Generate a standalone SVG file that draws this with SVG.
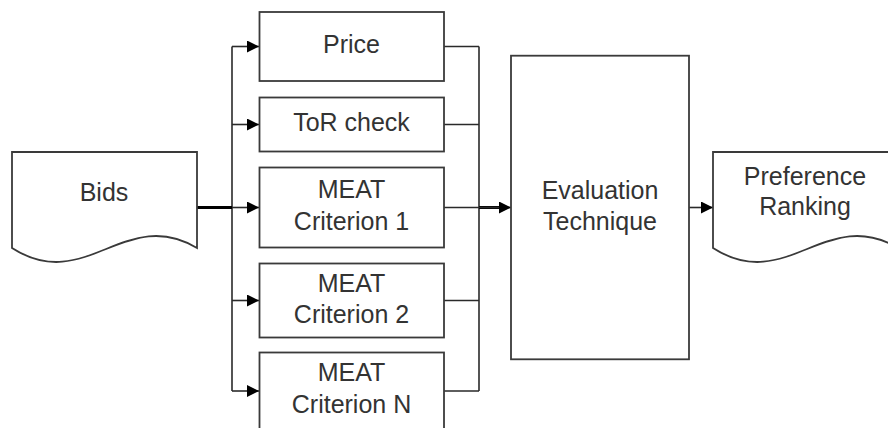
<svg xmlns="http://www.w3.org/2000/svg" width="888" height="428" viewBox="0 0 888 428">
<defs>
<marker id="arr" markerUnits="userSpaceOnUse" markerWidth="13" markerHeight="12" refX="12" refY="6" orient="auto">
<path d="M0,0 L12,6 L0,12 Z" fill="#000"/>
</marker>
<style>
.box{fill:#fff;stroke:#3a3a3a;stroke-width:1.8}
.t{font-family:"Liberation Sans",Arial,sans-serif;font-size:25px;fill:#333;text-anchor:middle}
.c{fill:none;stroke:#2a2a2a;stroke-width:1.6}
.k{fill:none;stroke:#000;stroke-width:3}
</style>
</defs>
<rect width="888" height="428" fill="#fff"/>
<g id="connectors">
<path class="c" d="M232,46.5 V391"/>
<path class="c" d="M232,46.5 H259" marker-end="url(#arr)"/>
<path class="c" d="M232,124.5 H259" marker-end="url(#arr)"/>
<path class="c" d="M232,207.5 H259" marker-end="url(#arr)"/>
<path class="c" d="M232,300.5 H259" marker-end="url(#arr)"/>
<path class="c" d="M232,391 H259" marker-end="url(#arr)"/>
<path class="k" d="M197,207.5 H232"/>
<path class="c" d="M479,46.5 V391"/>
<path class="c" d="M444,46.5 H479 M444,124.5 H479 M444,207.5 H479 M444,300.5 H479 M444,391 H479"/>
<path class="k" d="M479,207.5 H505"/>
<path class="c" d="M479,207.5 H511" marker-end="url(#arr)"/>
<path class="c" d="M689,207.5 H713" marker-end="url(#arr)"/>
</g>
<g id="bids">
<path class="box" d="M12,152 H197 V248 C125,205 85,295 12,248 Z"/>
<text class="t" x="104" y="201">Bids</text>
</g>
<g id="price">
<rect class="box" x="259.5" y="12" width="184.5" height="69"/>
<text class="t" x="351.5" y="53.3">Price</text>
</g>
<g id="tor">
<rect class="box" x="259.5" y="97.5" width="184.5" height="54"/>
<text class="t" x="351.5" y="130.7">ToR check</text>
</g>
<g id="meat1">
<rect class="box" x="259.5" y="167.5" width="184.5" height="80"/>
<text class="t" x="351.5" y="198">MEAT</text>
<text class="t" x="351.5" y="230">Criterion 1</text>
</g>
<g id="meat2">
<rect class="box" x="259.5" y="263.5" width="184.5" height="74"/>
<text class="t" x="351.5" y="291.7">MEAT</text>
<text class="t" x="351.5" y="322.7">Criterion 2</text>
</g>
<g id="meatN">
<rect class="box" x="259.5" y="352.5" width="184.5" height="77"/>
<text class="t" x="351.5" y="381">MEAT</text>
<text class="t" x="351.5" y="412.7">Criterion N</text>
</g>
<g id="evaluation">
<rect class="box" x="511" y="55.7" width="178" height="303.6"/>
<text class="t" x="600" y="199.3">Evaluation</text>
<text class="t" x="600" y="230">Technique</text>
</g>
<g id="preference">
<path class="box" d="M713,152 H898 V248 C826,205 786,295 713,248 Z"/>
<text class="t" x="805" y="185">Preference</text>
<text class="t" x="805" y="215">Ranking</text>
</g>
</svg>
